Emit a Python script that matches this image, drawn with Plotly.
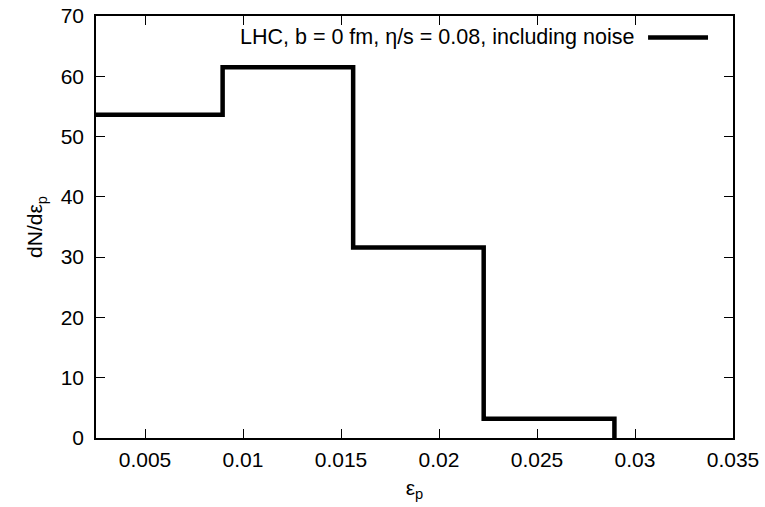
import plotly.graph_objects as go

# histogram bin edges (epsilon_p) and dN/d eps_p per bin
bin_edges = [0.0023, 0.00896, 0.01562, 0.02228, 0.02895]
counts = [53.6, 61.5, 31.6, 3.2]
legend_label = "LHC, b = 0 fm, η/s = 0.08, including noise"
xtick_vals = [0.005, 0.01, 0.015, 0.02, 0.025, 0.03, 0.035]
xtick_text = ["0.005", "0.01", "0.015", "0.02", "0.025", "0.03", "0.035"]
ytick_vals = [0, 10, 20, 30, 40, 50, 60, 70]

FONT = "Liberation Sans, Arial, Helvetica, sans-serif"
FS = 21

fig = go.Figure()
fig.add_trace(go.Scatter(
    x=bin_edges,
    y=counts + [0],
    mode="lines",
    line=dict(shape="hv", color="black", width=4.5),
    showlegend=False,
    cliponaxis=True,
))

axis_common = dict(
    showgrid=False, zeroline=False, showline=True, linecolor="black", linewidth=1.5,
    mirror="ticks", ticks="inside", ticklen=9, tickwidth=1, tickcolor="black",
    tickfont=dict(family=FONT, size=FS, color="black"), automargin=False,
)
fig.update_xaxes(range=[0.0025, 0.035], tickvals=xtick_vals, ticktext=xtick_text,
                 ticklabelstandoff=2,
                 title=dict(text="ε<sub>p</sub>", font=dict(family=FONT, size=FS, color="black"), standoff=10),
                 **axis_common)
fig.update_yaxes(range=[0, 70], tickvals=ytick_vals, ticklabelstandoff=6,
                 title=dict(text="dN/dε<sub>p</sub>", font=dict(family=FONT, size=FS, color="black"), standoff=12),
                 **axis_common)

# legend (text + sample line)
PL, PR, PT, PB = 95.5, 733, 15.5, 438
fig.add_annotation(xref="paper", yref="paper", x=(636 - PL) / (PR - PL), y=(PB - 37) / (PB - PT),
                   text=legend_label, showarrow=False, xanchor="right", yanchor="middle",
                   font=dict(family=FONT, size=21.5, color="black"))
fig.add_shape(type="line", xref="paper", yref="paper",
              x0=(648 - PL) / (PR - PL), x1=(708 - PL) / (PR - PL),
              y0=(PB - 37) / (PB - PT), y1=(PB - 37) / (PB - PT),
              line=dict(color="black", width=4.5))

fig.update_layout(
    width=765, height=507,
    margin=dict(l=PL, r=765 - PR, t=PT, b=507 - PB, autoexpand=False),
    paper_bgcolor="white", plot_bgcolor="white",
    font=dict(family=FONT, color="black"),
)
fig.write_html("out.html", config={"displayModeBar": False},
               post_script="document.body.style.margin='0';document.body.style.overflow='hidden';")
